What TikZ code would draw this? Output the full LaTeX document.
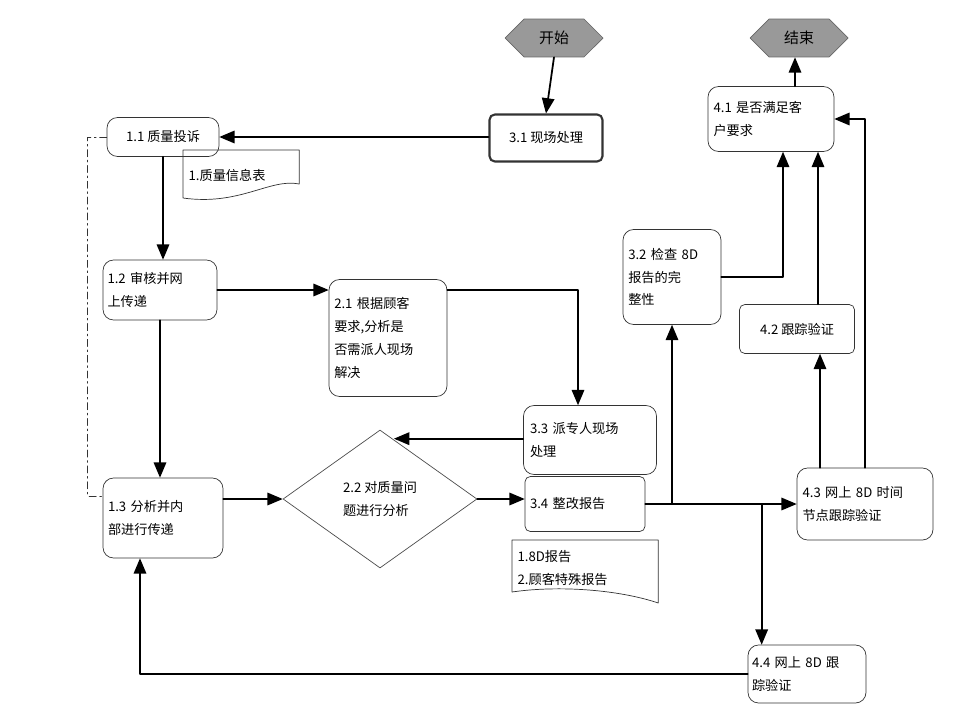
\documentclass[tikz,border=0pt]{standalone}
\usepackage{fontspec}
\setmainfont{Noto Sans CJK SC}
\usetikzlibrary{arrows,calc,shapes.geometric,shapes.symbols}
\tikzset{
  box/.style={draw=black!80,rounded corners=6pt,align=left,inner sep=2pt,font=\fontsize{7.5}{13}\selectfont},
  term/.style={signal,signal to=east and west,draw=black!60,fill=black!40,minimum height=0.76cm,minimum width=1.96cm,inner sep=0pt,font=\fontsize{8.5}{10}\selectfont},
  doc/.style={align=left,inner sep=3pt,font=\fontsize{7.5}{13}\selectfont},
  flow/.style={->,line width=1pt},
}
\begin{document}
\begin{tikzpicture}[line cap=round,line join=round,>=triangle 45,x=0.02cm,y=-0.02cm]
\useasboundingbox (0,0) rectangle (962,710);
\node[term] (start) at (554,38) {开始};
\node[term] (stop) at (799,38) {结束};
\node[box,line width=1.2pt,rounded corners=3pt,minimum width=2.26cm,minimum height=0.94cm] (s31) at (546,138) {3.1 现场处理};
\node[box,minimum width=2.24cm,minimum height=0.78cm] (s11) at (163,137) {1.1 质量投诉};
\node[doc,text width=2.1cm,minimum height=1cm,anchor=north west] (d1) at (183,150) {1.质量信息表};
\draw[black!80] ($(d1.north west)+(0,48)$) -- (d1.north west) -- (d1.north east) -- ($(d1.north east)+(0,34)$)
  .. controls (270,178) and (240,206) .. ($(d1.north west)+(0,48)$);
\node[box,text width=2.3cm,minimum width=2.52cm,minimum height=1.3cm] (s41) at (771,119) {4.1 是否满足客\\户要求};
\node[box,text width=2.1cm,minimum width=2.28cm,minimum height=1.2cm] (s12) at (160,290) {1.2 审核并网\\上传递};
\node[box,text width=2.15cm,minimum width=2.36cm,minimum height=2.34cm] (s21) at (388,338) {2.1 根据顾客\\要求,分析是\\否需派人现场\\解决};
\node[box,text width=1.75cm,minimum width=1.96cm,minimum height=1.9cm] (s32) at (672,277) {3.2 检查 8D\\报告的完\\整性};
\node[box,rounded corners=3pt,minimum width=2.3cm,minimum height=0.98cm] (s42) at (797,329) {4.2 跟踪验证};
\node[box,text width=2.4cm,minimum width=2.66cm,minimum height=1.38cm] (s33) at (590,440) {3.3 派专人现场\\处理};
\node[diamond,draw=black!70,minimum width=3.88cm,minimum height=2.76cm,inner sep=0pt,align=left,font=\fontsize{7.5}{13}\selectfont] (s22) at (380,499) {2.2 对质量问\\题进行分析};
\node[box,text width=2.2cm,minimum width=2.4cm,minimum height=1.6cm] (s13) at (163,518) {1.3 分析并内\\部进行传递};
\node[box,rounded corners=3pt,text width=2.2cm,minimum width=2.4cm,minimum height=1.1cm] (s34) at (585,504) {3.4 整改报告};
\node[box,text width=2.5cm,minimum width=2.72cm,minimum height=1.44cm] (s43) at (865,504) {4.3 网上 8D 时间\\节点跟踪验证};
\node[doc,text width=2.7cm,minimum height=1.1cm,anchor=north west] (d2) at (512,540) {1.8D报告\\2.顾客特殊报告};
\draw[black!80] ($(d2.north west)+(0,52)$) -- (d2.north west) -- (d2.north east) -- ($(d2.north east)+(0,63)$)
  .. controls (620,590) and (560,585) .. ($(d2.north west)+(0,52)$);
\node[box,text width=2.2cm,minimum width=2.36cm,minimum height=1.16cm] (s44) at (807,674) {4.4 网上 8D 跟\\踪验证};
% connectors
\coordinate (c33) at ($(s33.north)+(-12,0)$);
\coordinate (c22) at ($(s22.north)+(14,9)$);
\coordinate (c41a) at ($(s41.south)+(12,0)$);
\coordinate (c41b) at ($(s41.south)+(47,0)$);
\coordinate (c42) at ($(s42.south)+(23,0)$);
\coordinate (c44) at ($(s44.north west)+(14,0)$);
\coordinate (c13) at ($(s13.south)+(-23,0)$);
\coordinate (cend) at ($(stop.south)+(-4,0)$);
\draw[flow] (start.south) -- (s31.north);
\draw[flow] (s31.west |- s11.east) -- (s11.east);
\draw[flow] (s11.south) -- (s11.south |- s12.north);
\draw[flow] (s12.east) -- (s12.east -| s21.west);
\draw[flow] (s12.south) -- (s12.south |- s13.north);
\draw[flow] (s21.east |- s12.east) -| (c33);
\draw[flow] (s33.west |- c22) -- (c22);
\draw[flow] (s13.east |- s22.west) -- (s22.west);
\draw[flow] (s22.east) -- (s22.east -| s34.west);
\draw[flow] (s34.east) -- (s43.west);
\draw[flow] (s32.south |- s34.east) -- (s32.south);
\draw[flow] (c44 |- s34.east) -- (c44);
\draw[flow] (s32.east) -| (c41a);
\draw[flow] (c41b |- s42.north) -- (c41b);
\draw[flow] (c42 |- s43.north) -- (c42);
\draw[flow] (s43.north) |- (s41.east);
\draw[flow] (cend |- s41.north) -- (cend);
\draw[flow] (s44.west) -| (c13);
\draw[dash pattern=on 4pt off 2pt on 1pt off 2pt,black!80] (s11.west) -- ++(-19,0) |- ($(s13.west)+(0,-22)$);
\end{tikzpicture}
\end{document}
